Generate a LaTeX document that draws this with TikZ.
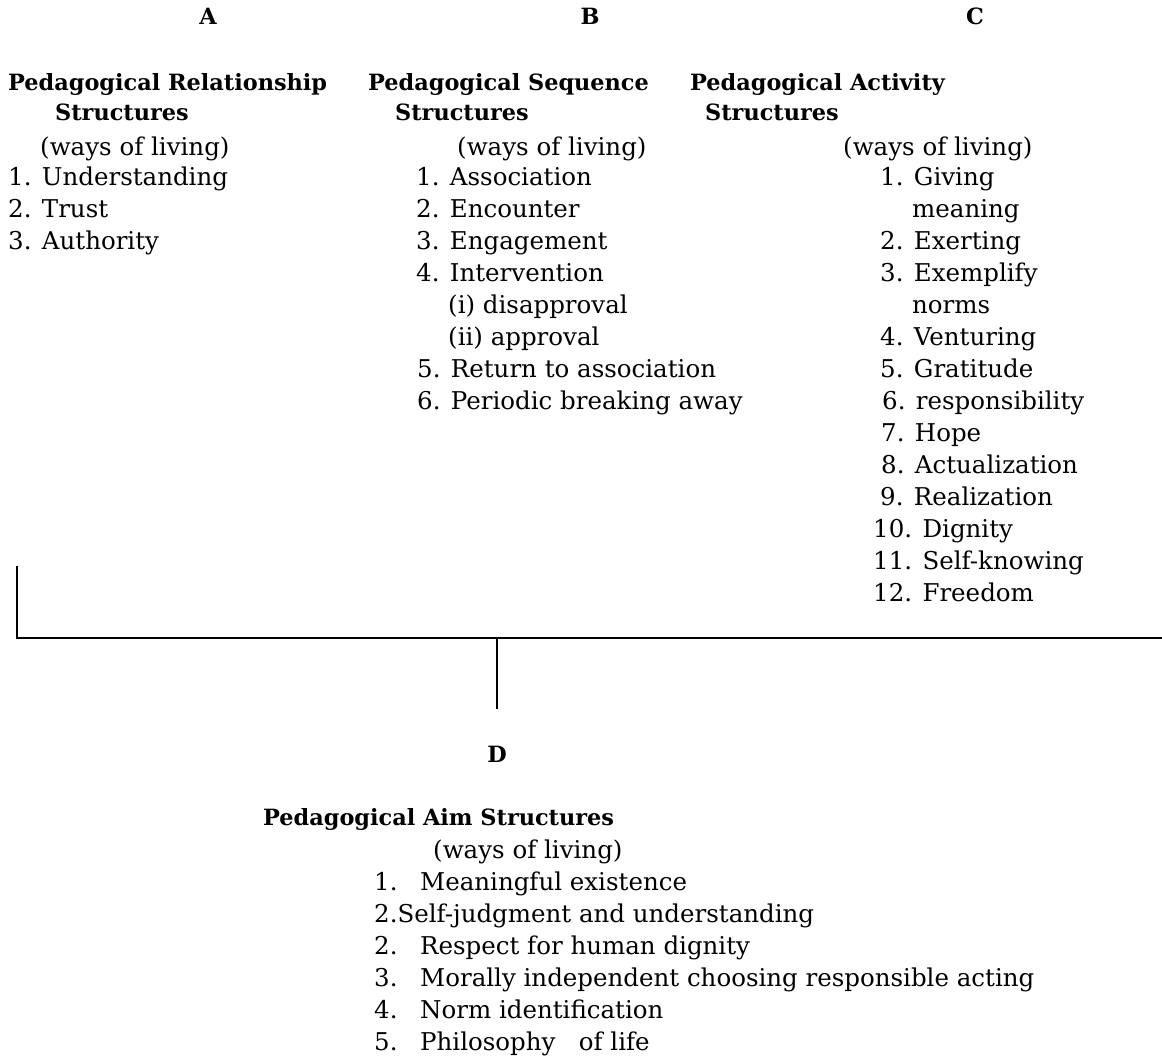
\documentclass[tikz,border=0pt]{standalone}
\usepackage{fontspec}
\setmainfont{DejaVu Serif}
\begin{document}
\begin{tikzpicture}[x=1pt,y=-1pt,
  txt/.style={anchor=base west,inner sep=0pt,font=\fontsize{24.5}{30}\selectfont},
  hd/.style={anchor=base west,inner sep=0pt,font=\fontsize{22.4}{30}\selectfont\bfseries},
  let/.style={anchor=base,inner sep=0pt,font=\fontsize{22.4}{30}\selectfont\bfseries},
  conn/.style={line width=2pt}]
\useasboundingbox (0,0) rectangle (1162,1057);
% letters
\node[let] (la) at (208,25) {A};
\node[let] (lb) at (590,25) {B};
\node[let] (lc) at (975,25) {C};
% column A
\node[hd] (a1) at (8,90) {Pedagogical Relationship};
\node[hd] (a2) at (55,121) {Structures};
\node[txt] (a3) at (40,155) {(ways of living)};
\node[txt] (a4) at (8,185) {1. Understanding};
\node[txt] (a5) at (8,217) {2. Trust};
\node[txt] (a6) at (8,249) {3. Authority};
% column B
\node[hd] (b1) at (368,90) {Pedagogical Sequence};
\node[hd] (b2) at (395,121) {Structures};
\node[txt] (b3) at (457,155) {(ways of living)};
\node[txt] (b4) at (416,185) {1. Association};
\node[txt] (b5) at (416,217) {2. Encounter};
\node[txt] (b6) at (416,249) {3. Engagement};
\node[txt] (b7) at (416,281) {4. Intervention};
\node[txt] (b8) at (448,313) {(i) disapproval};
\node[txt] (b9) at (448,345) {(ii) approval};
\node[txt] (b10) at (417,377) {5. Return to association};
\node[txt] (b11) at (417,409) {6. Periodic breaking away};
% column C
\node[hd] (c1) at (690,90) {Pedagogical Activity};
\node[hd] (c2) at (705,121) {Structures};
\node[txt] (c3) at (843,155) {(ways of living)};
\node[txt] (c4) at (880,185) {1. Giving};
\node[txt] (c5) at (912,217) {meaning};
\node[txt] (c6) at (880,249) {2. Exerting};
\node[txt] (c7) at (880,281) {3. Exemplify};
\node[txt] (c8) at (912,313) {norms};
\node[txt] (c9) at (880,345) {4. Venturing};
\node[txt] (c10) at (880,377) {5. Gratitude};
\node[txt] (c11) at (882,409) {6. responsibility};
\node[txt] (c12) at (881,441) {7. Hope};
\node[txt] (c13) at (881,473) {8. Actualization};
\node[txt] (c14) at (880,505) {9. Realization};
\node[txt] (c15) at (873,537) {10. Dignity};
\node[txt] (c16) at (873,569) {11. Self-knowing};
\node[txt] (c17) at (873,601) {12. Freedom};
% connector
\coordinate (ltop) at (17,566);
\coordinate (lbot) at (17,638);
\coordinate (rend) at (1162,638);
\coordinate (mtop) at (497,638);
\coordinate (mbot) at (497,709);
\draw[conn] (ltop) -- (lbot) -- (rend);
\draw[line width=1.6pt] (mtop) -- (mbot);
% column D
\node[let] (ld) at (497,762) {D};
\node[hd] (d1) at (263,825) {Pedagogical Aim Structures};
\node[txt] (d2) at (433,858) {(ways of living)};
\node[txt] (d3n) at (374,890) {1.};
\node[txt] (d3) at (420,890) {Meaningful existence};
\node[txt] (d4) at (374,922) {2.Self-judgment and understanding};
\node[txt] (d5n) at (374,954) {2.};
\node[txt] (d5) at (420,954) {Respect for human dignity};
\node[txt] (d6n) at (374,986) {3.};
\node[txt] (d6) at (420,986) {Morally independent choosing responsible acting};
\node[txt] (d7n) at (374,1018) {4.};
\node[txt] (d7) at (420,1018) {Norm identification};
\node[txt] (d8n) at (374,1050) {5.};
\node[txt] (d8) at (420,1050) {Philosophy\ \ \ of life};
\end{tikzpicture}
\end{document}
